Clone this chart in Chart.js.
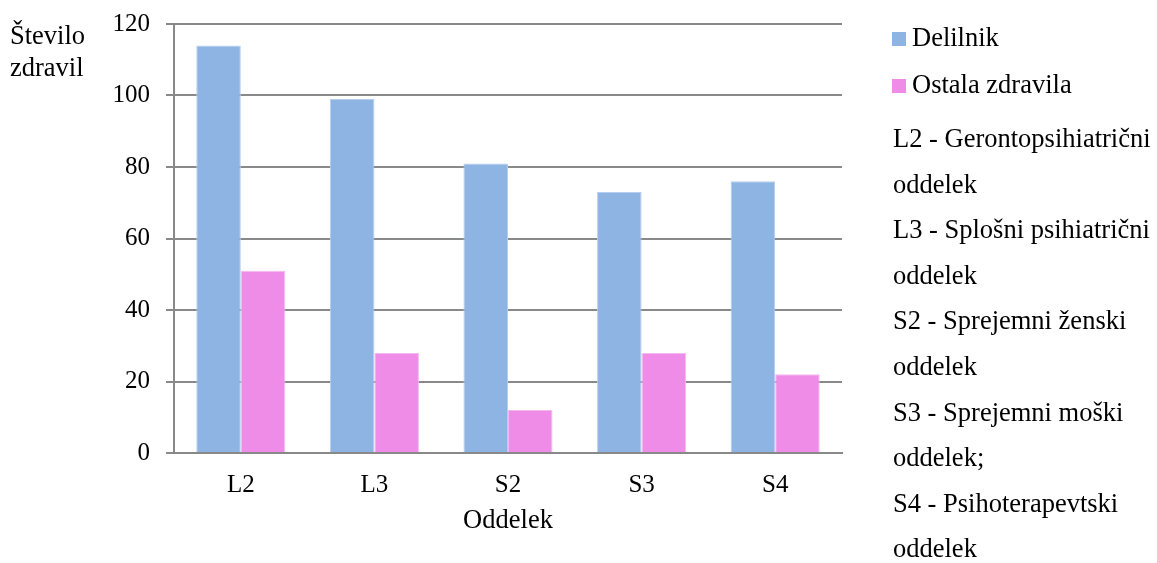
<!DOCTYPE html>
<html>
<head>
<meta charset="utf-8">
<script src="https://cdn.jsdelivr.net/npm/chart.js@4"></script>
<style>
  html, body { margin: 0; padding: 0; background: #fff; }
  #wrap { width: 1157px; height: 563px; position: relative; }
</style>
</head>
<body>
<div id="wrap"><canvas id="c"></canvas></div>
<script>
// Number of prescriptions per ward
const categories = ['L2', 'L3', 'S2', 'S3', 'S4'];
const delilnik = [114, 99, 81, 73, 76];
const ostalaZdravila = [51, 28, 12, 28, 22];
const yTicks = [0, 20, 40, 60, 80, 100, 120];
const seriesNames = ['Delilnik', 'Ostala zdravila'];
const yTitleLines = ['Število', 'zdravil'];
const xTitle = 'Oddelek';
const wardNotes = [
  'L2 - Gerontopsihiatrični oddelek',
  'L3 - Splošni psihiatrični oddelek',
  'S2 - Sprejemni ženski oddelek',
  'S3 - Sprejemni moški oddelek;',
  'S4 - Psihoterapevtski oddelek'
];

const FONT = '"Liberation Serif", "Times New Roman", serif';
const FS = 25;      // tick labels
const FS_TXT = 26.5; // captions and legend
const BLUE = '#8EB4E3';
const PINK = '#EF8CE8';
const GRID = '#898989';

// Side legend plus the horizontal y-axis caption
const sideText = {
  id: 'sideText',
  afterDraw(chart) {
    const ctx = chart.ctx;
    ctx.save();
    ctx.font = FS_TXT + 'px ' + FONT;
    ctx.fillStyle = '#000';
    ctx.textBaseline = 'middle';
    ctx.textAlign = 'left';

    // y-axis caption
    ctx.fillText(yTitleLines[0], 10, 37);
    ctx.fillText(yTitleLines[1], 10, 69);

    // series swatches
    const colors = [BLUE, PINK];
    const rowY = [39, 86];
    seriesNames.forEach((name, i) => {
      ctx.fillStyle = colors[i];
      ctx.fillRect(892, rowY[i] - 7, 14, 14);
      ctx.fillStyle = '#000';
      ctx.fillText(name, 912, rowY[i]);
    });

    // ward abbreviations, each wrapped before its last word
    const lines = [];
    wardNotes.forEach(n => {
      const k = n.lastIndexOf(' ');
      lines.push(n.slice(0, k), n.slice(k + 1));
    });
    const y0 = 140, step = 45.6;
    lines.forEach((t, i) => ctx.fillText(t, 893, y0 + step * i));
    ctx.restore();
  }
};

new Chart(document.getElementById('c'), {
  type: 'bar',
  data: {
    labels: categories,
    datasets: [
      { label: seriesNames[0], data: delilnik, backgroundColor: BLUE, borderColor: '#b5cdee', borderWidth: 1 },
      { label: seriesNames[1], data: ostalaZdravila, backgroundColor: PINK, borderColor: '#f6b6f1', borderWidth: 1 }
    ]
  },
  options: {
    responsive: true,
    maintainAspectRatio: false,
    animation: false,
    datasets: { bar: { categoryPercentage: 2 / 3, barPercentage: 1 } },
    layout: { padding: { left: 0, right: 315, top: 24, bottom: 0 } },
    plugins: { legend: { display: false }, tooltip: { enabled: false } },
    scales: {
      x: {
        grid: { display: false, drawTicks: false },
        border: { display: true, color: GRID, width: 2 },
        ticks: { color: '#000', font: { family: FONT, size: FS }, padding: 17, maxRotation: 0 },
        title: { display: true, text: xTitle, color: '#000', font: { family: FONT, size: FS_TXT }, padding: { top: 0, bottom: 26 } },
        afterFit(scale) { scale.height = 110; scale.paddingLeft = 0; scale.paddingRight = 0; }
      },
      y: {
        min: 0,
        max: 120,
        afterBuildTicks(scale) { scale.ticks = yTicks.map(v => ({ value: v })); },
        grid: { color: GRID, lineWidth: 2, tickLength: 8, drawTicks: true },
        border: { display: true, color: GRID, width: 2 },
        ticks: { color: '#000', font: { family: FONT, size: FS }, padding: 16 },
        afterFit(scale) { scale.width = 174; scale.paddingTop = 0; scale.paddingBottom = 0; }
      }
    }
  },
  plugins: [sideText]
});
</script>
</body>
</html>
